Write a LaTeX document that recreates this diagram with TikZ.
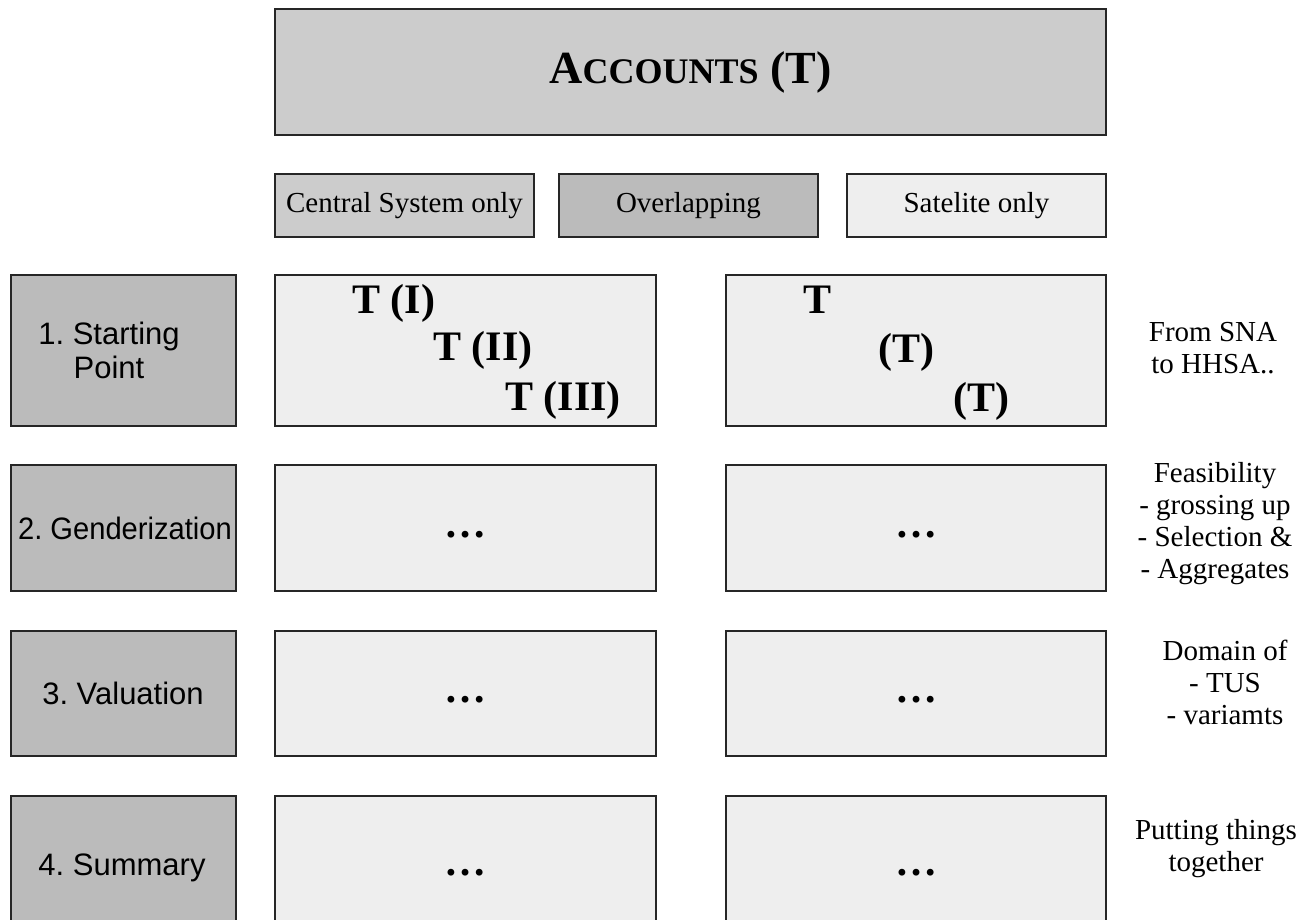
\documentclass[tikz,border=0pt]{standalone}
\usepackage{fontspec}
\usepackage{graphicx}
\setmainfont{Liberation Serif}
\newfontfamily\stagefont{Liberation Sans}
\definecolor{titlegray}{HTML}{CCCCCC}
\definecolor{stagegray}{HTML}{BBBBBB}
\definecolor{cellgray}{HTML}{EEEEEE}
\definecolor{framegray}{HTML}{262626}
\tikzset{
  frame/.style={rectangle, draw=framegray, line width=1.2pt, inner sep=0pt, outer sep=0pt, anchor=north west},
  headtext/.style={font=\fontsize{29}{33}\selectfont},
  stagetext/.style={font=\stagefont\fontsize{31}{34}\selectfont\frenchspacing, align=center, inner sep=0pt},
  notetext/.style={font=\fontsize{29}{32}\selectfont, align=center, inner sep=0pt},
  accttext/.style={font=\fontsize{42}{46}\selectfont\bfseries, anchor=base west, inner sep=0pt},
  dotstext/.style={font=\fontsize{42}{46}\selectfont\bfseries, inner sep=0pt}
}
\begin{document}
\begin{tikzpicture}[x=1pt,y=-1pt]
\clip (0,0) rectangle (1307,920);
\fill[white] (0,0) rectangle (1307,920);

% title bar
\node[frame, fill=titlegray, minimum width=831pt, minimum height=126pt] (title) at (275,9) {};
\node[inner sep=0pt, font=\fontsize{46}{50}\selectfont\bfseries] (titletext) at (title.center)
  {A{\fontsize{36}{40}\selectfont CCOUNTS} (T)};

% column headers
\node[frame, fill=titlegray, minimum width=259pt, minimum height=63pt] (central) at (275,174) {};
\node[headtext] (centraltext) at (central.center) {Central System only};
\node[frame, fill=stagegray, minimum width=259pt, minimum height=63pt] (overlap) at (559,174) {};
\node[headtext] (overlaptext) at (overlap.center) {Overlapping};
\node[frame, fill=cellgray, minimum width=259pt, minimum height=63pt] (satelite) at (847,174) {};
\node[headtext] (satelitetext) at (satelite.center) {Satelite only};

% stage boxes on the left
\node[frame, fill=stagegray, minimum width=225pt, minimum height=151pt] (s1) at (11,275) {};
\node[frame, fill=stagegray, minimum width=225pt, minimum height=126pt] (s2) at (11,465) {};
\node[frame, fill=stagegray, minimum width=225pt, minimum height=125pt] (s3) at (11,631) {};
\node[frame, fill=stagegray, minimum width=225pt, minimum height=150pt] (s4) at (11,796) {};
\node[stagetext] (s1text) at (109,350) {1. Starting\\Point};
\node[stagetext] (s2text) at (125,528) {\scalebox{0.94}[1]{2. Genderization}};
\node[stagetext] (s3text) at (123,693) {3. Valuation};
\node[stagetext] (s4text) at (122,868) {4. Summary};

% central system cells
\node[frame, fill=cellgray, minimum width=381pt, minimum height=151pt] (c1) at (275,275) {};
\node[frame, fill=cellgray, minimum width=381pt, minimum height=126pt] (c2) at (275,465) {};
\node[frame, fill=cellgray, minimum width=381pt, minimum height=125pt] (c3) at (275,631) {};
\node[frame, fill=cellgray, minimum width=381pt, minimum height=150pt] (c4) at (275,796) {};

% satellite cells
\node[frame, fill=cellgray, minimum width=380pt, minimum height=151pt] (a1) at (726,275) {};
\node[frame, fill=cellgray, minimum width=380pt, minimum height=126pt] (a2) at (726,465) {};
\node[frame, fill=cellgray, minimum width=380pt, minimum height=125pt] (a3) at (726,631) {};
\node[frame, fill=cellgray, minimum width=380pt, minimum height=150pt] (a4) at (726,796) {};

% starting point accounts
\node[accttext] (ti) at (352,313) {T (I)};
\node[accttext] (tii) at (433,360) {T (II)};
\node[accttext] (tiii) at (505,410) {T (III)};
\node[accttext] (ta) at (803,313) {T};
\node[accttext] (tb) at (878,362) {(T)};
\node[accttext] (tc) at (953,411) {(T)};

% placeholders
\node[dotstext] (c2dots) at (465.5,535) {…};
\node[dotstext] (c3dots) at (465.5,700) {…};
\node[dotstext] (c4dots) at (465.5,873) {…};
\node[dotstext] (a2dots) at (916,535) {…};
\node[dotstext] (a3dots) at (916,700) {…};
\node[dotstext] (a4dots) at (916,873) {…};

% notes on the right
\node[notetext] (n1) at (1213,348) {From SNA\\to HHSA..};
\node[notetext] (n2) at (1215,524) {Feasibility\\- grossing up\\- Selection \&\\- Aggregates};
\node[notetext] (n3) at (1225,682) {Domain of\\- TUS\\- variamts};
\node[notetext] (n4) at (1216,849) {Putting things\\together};
\end{tikzpicture}
\end{document}
